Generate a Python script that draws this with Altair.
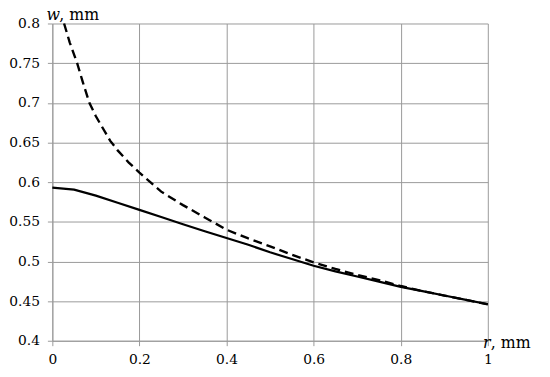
import altair as alt
import pandas as pd

# Solid curve
solid_r = [0, 0.05, 0.1, 0.15, 0.2, 0.25, 0.3, 0.35, 0.4, 0.45, 0.5, 0.55, 0.6,
           0.65, 0.7, 0.75, 0.8, 0.85, 0.9, 0.95, 1.0]
solid_w = [0.593, 0.5905, 0.583, 0.574, 0.565, 0.556, 0.547, 0.538, 0.5295, 0.521,
           0.5115, 0.503, 0.4946, 0.4875, 0.481, 0.4745, 0.468, 0.4625, 0.457, 0.4515, 0.446]

# Dashed curve
dashed_r = [0.027, 0.04, 0.057, 0.07, 0.085, 0.1, 0.133, 0.15, 0.175, 0.2, 0.25, 0.3,
            0.35, 0.4, 0.45, 0.5, 0.55, 0.6, 0.65, 0.7, 0.75, 0.8, 0.85, 0.9, 0.95, 1.0]
dashed_w = [0.80, 0.776, 0.75, 0.726, 0.70, 0.683, 0.652, 0.640, 0.625, 0.612, 0.588, 0.571,
            0.5555, 0.540, 0.529, 0.519, 0.5085, 0.4988, 0.4905, 0.483, 0.4765, 0.469,
            0.4625, 0.457, 0.4515, 0.446]

x_ticks = [0, 0.2, 0.4, 0.6, 0.8, 1.0]
y_ticks = [0.4, 0.45, 0.5, 0.55, 0.6, 0.65, 0.7, 0.75, 0.8]

solid_df = pd.DataFrame({"r": solid_r, "w": solid_w})
dashed_df = pd.DataFrame({"r": dashed_r, "w": dashed_w})

FONT = "DejaVu Serif"
GRID = "#999999"

axis_common = dict(title=None, labelFlush=False, labelFont=FONT, labelFontSize=14,
                   labelColor="black", labelOverlap=False)

x_enc = alt.X("r:Q", scale=alt.Scale(domain=[0, 1], nice=False),
              axis=alt.Axis(values=x_ticks, format=".1~f", labelPadding=7, **axis_common))
y_enc = alt.Y("w:Q", scale=alt.Scale(domain=[0.4, 0.8], nice=False, zero=False),
              axis=alt.Axis(values=y_ticks, format=".2~f", labelPadding=8, **axis_common))

solid = alt.Chart(solid_df).mark_line(color="black", strokeWidth=2.2).encode(x=x_enc, y=y_enc)
dashed = alt.Chart(dashed_df).mark_line(color="black", strokeWidth=2.4,
                                        strokeDash=[9, 5]).encode(x=x_enc, y=y_enc)

def label(txt, x, y, italic=False):
    return alt.Chart(pd.DataFrame({"t": [txt]})).mark_text(
        font=FONT, fontSize=16, align="left", baseline="alphabetic",
        fontStyle="italic" if italic else "normal", color="black"
    ).encode(text="t:N", x=alt.value(x), y=alt.value(y))

titles = [
    label("w", -6, -4, True),
    label(", mm", 7, -4),
    label("r", 437, 329, True),
    label(", mm", 445, 329),
]

chart = alt.layer(solid, dashed, *titles).properties(
    width=442, height=322,
    padding={"left": 45, "top": 13, "right": 55, "bottom": 30},
    autosize=alt.AutoSizeParams(type="none"),
).configure_axis(
    labelFont=FONT, labelFontSize=14, labelColor="black",
    gridColor=GRID, gridWidth=1, gridOpacity=1,
    tickColor=GRID, tickSize=5, tickWidth=1,
    domainColor=GRID, domainWidth=1,
).configure_view(stroke=None).configure_text(font=FONT)

chart.save("out.html", embed_options={"renderer": "svg", "actions": False})
